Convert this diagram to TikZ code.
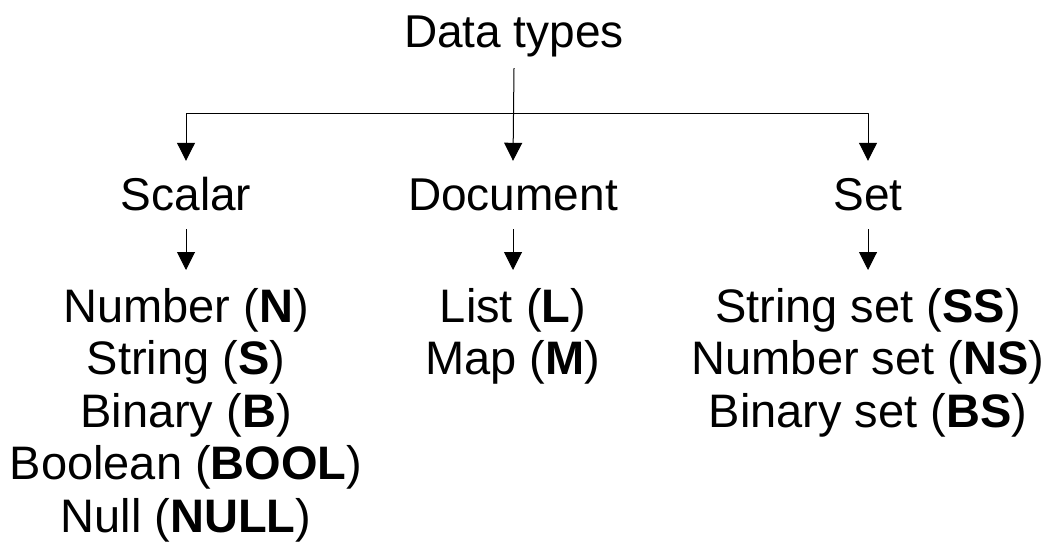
\documentclass[tikz,border=0pt]{standalone}
\usepackage{fontspec}
\setmainfont{Liberation Sans}
\usetikzlibrary{arrows.meta}
\begin{document}
\begin{tikzpicture}[x=1pt, y=-1pt, line join=round, >={Triangle[length=18pt,width=18pt]},
  head/.style={font=\fontsize{46}{47}\selectfont, inner sep=0pt, text height=34pt, text depth=10pt, anchor=base},
  items/.style={font=\fontsize{47}{52.5}\selectfont, inner sep=0pt, align=center, anchor=north},
  link/.style={->, line width=1pt}]
\useasboundingbox (0,0) rectangle (1051,554);
\node[head] (types) at (514,47) {Data types};
\node[head] (scalar) at (186,210) {Scalar};
\node[head] (doc) at (513,210) {Document};
\node[head] (set) at (868,210) {Set};
\node[items] (scalarlist) at (186,288) {Number (\textbf{N})\\String (\textbf{S})\\Binary (\textbf{B})\\Boolean (\textbf{BOOL})\\Null (\textbf{NULL})};
\node[items] (doclist) at (513,288) {List (\textbf{L})\\Map (\textbf{M})};
\node[items] (setlist) at (868,288) {String set (\textbf{SS})\\Number set (\textbf{NS})\\Binary set (\textbf{BS})};
\coordinate (split) at (513,113);
\draw[link] ([yshift=-11pt]types.south) -- ([yshift=15pt]doc.north);
\draw[link] (split) -| ([yshift=15pt]scalar.north);
\draw[link] (split) -| ([yshift=15pt]set.north);
\draw[link] ([yshift=-9pt]scalar.south) -- ([yshift=18pt]scalarlist.north);
\draw[link] ([yshift=-9pt]doc.south) -- ([yshift=18pt]doclist.north);
\draw[link] ([yshift=-9pt]set.south) -- ([yshift=18pt]setlist.north);
\end{tikzpicture}
\end{document}
